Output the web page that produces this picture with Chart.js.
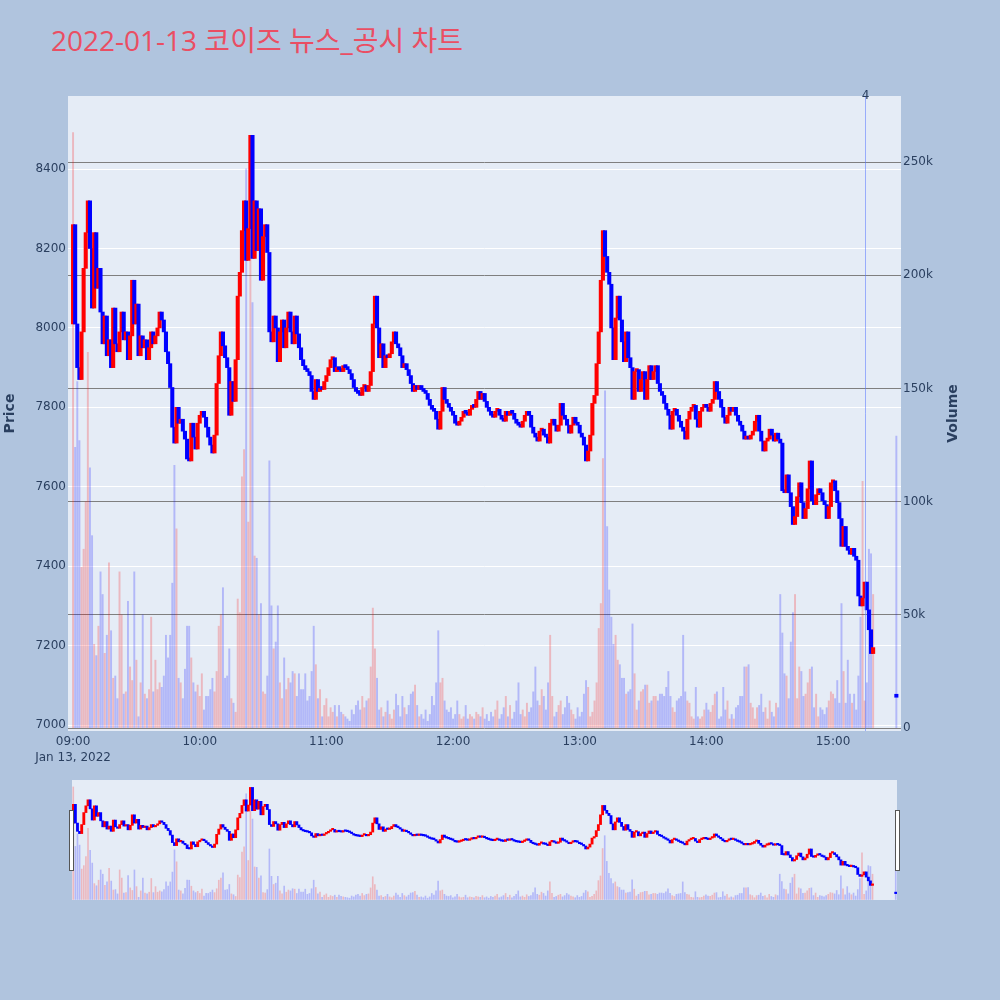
<!DOCTYPE html>
<html>
<head>
<meta charset="utf-8">
<script src="https://cdn.jsdelivr.net/npm/chart.js@4.4.1/dist/chart.umd.min.js"></script>
<style>
    html, body { margin: 0; padding: 0; background: #b0c4de; }
    #wrap { position: relative; width: 1000px; height: 1000px; overflow: hidden; }
    #title {
        position: absolute; left: 51px; top: 24px; line-height: 32px;
        font-size: 28px; font-family: "Open Sans", "Noto Sans CJK KR", sans-serif;
        color: rgb(234, 78, 99); white-space: nowrap;
    }
    #main { position: absolute; left: 0; top: 0; }
    #slider { position: absolute; left: 72px; top: 780px; background: #e5ecf6; }
    .handle { position: absolute; top: 810px; width: 3px; height: 59px; background: #fff; border: 1px solid #555; }
</style>
</head>
<body>
<div id="wrap">
    <div id="title">2022-01-13 코이즈 뉴스_공시 차트</div>
    <canvas id="main" width="1000" height="770"></canvas>
    <canvas id="slider" width="825" height="120"></canvas>
    <div class="handle" style="left:69px"></div>
    <div class="handle" style="left:895px"></div>
</div>
<script>
// --- Data (1-minute bars from 09:00, index = minutes after open) ---
const firstOpen = 8010;
const closes = [
    8260, 8010, 7900, 7870, 7990, 8150, 8240, 8320, 8200, 8050,
    8240, 8100, 8150, 8040, 7960, 8030, 7930, 7970, 7900, 8050,
    7960, 7940, 7990, 8040, 7970, 7990, 7920, 7980, 8120, 8010,
    8060, 7930, 7980, 7950, 7970, 7920, 7950, 7990, 7960, 7980,
    8000, 8040, 8020, 7990, 7940, 7910, 7850, 7750, 7710, 7800,
    7760, 7770, 7740, 7720, 7670, 7665, 7760, 7725, 7695, 7760,
    7780, 7790, 7775, 7750, 7725, 7705, 7685, 7730, 7860, 7930,
    7990, 7955, 7925, 7900, 7780, 7865, 7815, 7920, 8080, 8140,
    8245, 8320, 8170, 8250, 8485, 8175, 8320, 8195, 8300, 8120,
    8230, 8260, 8190, 7990, 7965, 8030, 8000, 7915, 7990, 8020,
    7950, 8000, 8040, 7990, 7960, 8030, 7985, 7950, 7920, 7905,
    7895, 7890, 7880, 7840, 7820, 7870, 7840, 7845, 7845, 7865,
    7880, 7900, 7920, 7925, 7890, 7900, 7895, 7890, 7905, 7900,
    7895, 7885, 7870, 7850, 7840, 7835, 7830, 7850, 7855, 7840,
    7855, 7890, 8010, 8080, 8000, 7925, 7960, 7900, 7930, 7925,
    7935, 7965, 7990, 7960, 7950, 7930, 7900, 7910, 7895, 7880,
    7860, 7840, 7855, 7845, 7855, 7845, 7840, 7835, 7820, 7805,
    7795, 7790, 7770, 7745, 7790, 7850, 7820, 7810, 7800, 7790,
    7780, 7760, 7755, 7765, 7775, 7790, 7785, 7780, 7795, 7805,
    7800, 7820, 7840, 7820, 7835, 7815, 7800, 7790, 7780, 7775,
    7790, 7795, 7780, 7770, 7765, 7790, 7780, 7790, 7785, 7770,
    7760, 7755, 7750, 7765, 7780, 7790, 7780, 7750, 7735, 7725,
    7715, 7740, 7745, 7730, 7725, 7710, 7760, 7770, 7755, 7740,
    7755, 7810, 7780, 7770, 7755, 7735, 7755, 7775, 7760, 7755,
    7735, 7725, 7705, 7665, 7690, 7730, 7810, 7830, 7910, 7990,
    8120, 8245, 8180, 8140, 8110, 8000, 7920, 8025, 8080, 8020,
    7965, 7915, 7990, 7925, 7900, 7820, 7890, 7895, 7840, 7870,
    7890, 7820, 7870, 7905, 7870, 7890, 7905, 7860, 7840, 7830,
    7810, 7795, 7780, 7745, 7790, 7795, 7780, 7765, 7750, 7740,
    7720, 7770, 7790, 7800, 7805, 7770, 7750, 7790, 7800, 7805,
    7800, 7790, 7810, 7820, 7865, 7840, 7820, 7800, 7775, 7760,
    7780, 7800, 7790, 7800, 7780, 7765, 7755, 7740, 7720, 7725,
    7720, 7730, 7740, 7765, 7780, 7740, 7715, 7690, 7715, 7720,
    7745, 7730, 7715, 7735, 7720, 7710, 7590, 7585, 7630, 7585,
    7550, 7505, 7525, 7575, 7610, 7560, 7520, 7545, 7595, 7665,
    7565, 7555, 7580, 7595, 7585, 7565, 7555, 7520, 7550, 7610,
    7615, 7590, 7560, 7520, 7450, 7500, 7450, 7440, 7430, 7445,
    7425, 7415, 7325, 7300, 7320, 7360, 7290, 7240, 7180, 7195
];
// volume in thousands of shares
const volumesK = [
    263, 124, 153, 127, 71, 79, 100, 166, 115, 85,
    37, 32, 45, 69, 59, 33, 41, 73, 43, 22,
    23, 13, 69, 50, 15, 16, 56, 27, 21, 69,
    30, 5, 20, 50, 15, 13, 17, 49, 16, 30,
    17, 20, 18, 23, 41, 31, 41, 64, 116, 88,
    22, 20, 13, 26, 45, 45, 31, 20, 16, 19,
    14, 24, 8, 14, 14, 17, 22, 16, 25, 45,
    50, 62, 22, 23, 35, 13, 11, 7, 57, 51,
    111, 123, 247, 91, 230, 188, 76, 75, 50, 55,
    16, 15, 23, 118, 54, 35, 38, 54, 20, 13,
    31, 17, 22, 20, 25, 24, 14, 24, 17, 17,
    24, 12, 14, 25, 45, 28, 13, 17, 5, 10,
    13, 5, 9, 7, 10, 5, 10, 7, 6, 5,
    4, 3, 8, 6, 10, 12, 8, 14, 9, 12,
    13, 27, 53, 35, 22, 8, 9, 5, 7, 12,
    6, 4, 8, 15, 10, 5, 14, 9, 6, 10,
    15, 16, 19, 10, 5, 6, 4, 8, 3, 6,
    14, 10, 20, 43, 20, 22, 12, 8, 7, 9,
    4, 6, 12, 6, 4, 5, 10, 4, 6, 5,
    4, 7, 6, 5, 9, 4, 6, 3, 7, 5,
    8, 12, 4, 6, 9, 14, 5, 10, 4, 7,
    12, 20, 6, 8, 5, 11, 7, 9, 16, 27,
    12, 10, 17, 14, 8, 20, 41, 14, 5, 7,
    10, 12, 6, 9, 14, 11, 8, 6, 4, 9,
    5, 7, 15, 21, 18, 5, 7, 12, 20, 44,
    55, 119, 149, 89, 61, 49, 37, 41, 30, 28,
    22, 22, 15, 16, 17, 46, 24, 8, 12, 16,
    17, 19, 19, 11, 12, 14, 14, 12, 15, 15,
    14, 18, 25, 14, 9, 7, 12, 13, 14, 41,
    16, 12, 11, 5, 4, 18, 5, 4, 5, 8,
    11, 8, 7, 10, 15, 16, 4, 5, 18, 8,
    12, 4, 6, 4, 9, 10, 14, 14, 27, 27,
    28, 11, 9, 4, 9, 10, 15, 7, 9, 4,
    12, 7, 5, 11, 9, 59, 42, 24, 23, 13,
    38, 51, 59, 13, 27, 25, 14, 15, 20, 26,
    27, 9, 15, 5, 9, 8, 6, 9, 12, 16,
    15, 13, 21, 11, 55, 25, 11, 30, 15, 11,
    15, 8, 23, 49, 109, 12, 20, 79, 77, 59
];
// closing auction (15:30)
const auctionMinute = 390;
const auctionOpen = 7076;
const auctionClose = 7070;
const auctionVolK = 129;

// news / disclosure markers
const newsMinutes = [375];
const newsLabels = ['4'];

// axes
const priceTicks = [7000, 7200, 7400, 7600, 7800, 8000, 8200, 8400];
const volTicks = [0, 50, 100, 150, 200, 250];
const volTickLabels = ['0', '50k', '100k', '150k', '200k', '250k'];
const hourTicks = [0, 60, 120, 180, 240, 300, 360];
const hourLabels = ['09:00', '10:00', '11:00', '12:00', '13:00', '14:00', '15:00'];
const dateLabel = 'Jan 13, 2022';

// --- Build datasets ---
const UP = '#ff0000', DOWN = '#0000ff';
const UP_VOL = 'rgba(255, 0, 0, 0.22)', DOWN_VOL = 'rgba(0, 0, 255, 0.22)';

const opens = closes.map((c, i) => i === 0 ? firstOpen : closes[i - 1]);
const candleData = closes.map((c, i) => ({ x: i, y: [opens[i], c] }));
candleData.push({ x: auctionMinute, y: [auctionOpen, auctionClose] });
const isUp = candleData.map(d => d.y[1] > d.y[0]);
const candleColors = isUp.map(u => u ? UP : DOWN);

const volData = volumesK.map((v, i) => ({ x: i, y: v }));
volData.push({ x: auctionMinute, y: auctionVolK });
const volColors = isUp.map(u => u ? UP_VOL : DOWN_VOL);

const tickFont = { family: 'DejaVu Sans', size: 12 };
const tickColor = '#2a3f5f';
const PRICE_MIN = 6985, PRICE_MAX = 8584;
const VOL_MIN = -1.3, VOL_MAX = 279.2;

// --- Decorations: plot background, news line, axis titles ---
const plotDeco = {
    id: 'plotDeco',
    beforeDraw(chart) {
        const { ctx, chartArea: a } = chart;
        ctx.save();
        ctx.fillStyle = '#e5ecf6';
        ctx.fillRect(a.left, a.top, a.right - a.left, a.bottom - a.top);
        ctx.restore();
    },
    afterDatasetsDraw(chart) {
        const { ctx, chartArea: a, scales } = chart;
        ctx.save();
        newsMinutes.forEach((m, i) => {
            const x = Math.round(scales.x.getPixelForValue(m)) + 0.5;
            ctx.strokeStyle = 'rgba(90, 120, 255, 0.55)';
            ctx.lineWidth = 1;
            ctx.beginPath();
            ctx.moveTo(x, a.top);
            ctx.lineTo(x, a.bottom);
            ctx.stroke();
            ctx.fillStyle = tickColor;
            ctx.font = '12px "DejaVu Sans"';
            ctx.textAlign = 'center';
            ctx.textBaseline = 'middle';
            ctx.fillText(newsLabels[i], x, a.top);
        });
        ctx.restore();
    },
    afterDraw(chart) {
        const { ctx, chartArea: a, scales } = chart;
        const midY = (a.top + a.bottom) / 2;
        ctx.save();
        ctx.fillStyle = tickColor;
        ctx.font = 'bold 14px "DejaVu Sans"';
        ctx.textAlign = 'center';
        ctx.textBaseline = 'middle';
        ctx.save();
        ctx.translate(10, midY);
        ctx.rotate(-Math.PI / 2);
        ctx.fillText('Price', 0, 0);
        ctx.restore();
        ctx.save();
        ctx.translate(953, midY);
        ctx.rotate(-Math.PI / 2);
        ctx.fillText('Volume', 0, 0);
        ctx.restore();
        ctx.font = '12px "DejaVu Sans"';
        ctx.fillText(dateLabel, scales.x.getPixelForValue(hourTicks[0]), a.bottom + 27);
        ctx.restore();
    }
};

new Chart(document.getElementById('main'), {
    type: 'bar',
    data: {
        datasets: [
            {
                data: candleData,
                backgroundColor: candleColors,
                barThickness: 3.4,
                minBarLength: 3,
                grouped: false,
                yAxisID: 'y',
                order: 1
            },
            {
                data: volData,
                backgroundColor: volColors,
                barThickness: 1.3,
                grouped: false,
                yAxisID: 'y1',
                order: 2
            }
        ]
    },
    options: {
        responsive: false,
        animation: false,
        devicePixelRatio: 1,
        events: [],
        layout: { padding: { top: 96, left: 0, right: 0, bottom: 0 } },
        plugins: { legend: { display: false }, tooltip: { enabled: false } },
        scales: {
            x: {
                type: 'linear',
                position: 'bottom',
                offset: false,
                min: -2.4,
                max: 392.2,
                grid: { display: false, drawTicks: false },
                border: { display: false },
                afterBuildTicks: s => { s.ticks = hourTicks.map(v => ({ value: v })); },
                afterFit: s => { s.height = 39; },
                ticks: {
                    autoSkip: false, maxRotation: 0, padding: 4,
                    font: tickFont, color: tickColor,
                    callback: v => hourLabels[hourTicks.indexOf(v)]
                }
            },
            y: {
                position: 'left',
                min: PRICE_MIN,
                max: PRICE_MAX,
                grid: { color: '#ffffff', lineWidth: 1, drawTicks: false },
                border: { display: false },
                afterBuildTicks: s => { s.ticks = priceTicks.map(v => ({ value: v })); },
                afterFit: s => { s.width = 68; },
                ticks: { padding: 2, font: tickFont, color: tickColor, callback: v => String(v) }
            },
            y1: {
                position: 'right',
                min: VOL_MIN,
                max: VOL_MAX,
                grid: { color: '#7f7f7f', lineWidth: 1, drawTicks: false },
                border: { display: false },
                afterBuildTicks: s => { s.ticks = volTicks.map(v => ({ value: v })); },
                afterFit: s => { s.width = 99; },
                ticks: {
                    padding: 2, font: tickFont, color: tickColor,
                    callback: v => volTickLabels[volTicks.indexOf(v)]
                }
            }
        }
    },
    plugins: [plotDeco]
});

// --- Range slider miniature ---
new Chart(document.getElementById('slider'), {
    type: 'bar',
    data: {
        datasets: [
            { data: candleData, backgroundColor: candleColors, barThickness: 2.2, minBarLength: 1.5, grouped: false, yAxisID: 'y', order: 1 },
            { data: volData, backgroundColor: volColors, barThickness: 1, grouped: false, yAxisID: 'y1', order: 2 }
        ]
    },
    options: {
        responsive: false,
        animation: false,
        devicePixelRatio: 1,
        events: [],
        layout: { padding: 0 },
        plugins: { legend: { display: false }, tooltip: { enabled: false } },
        scales: {
            x: { type: 'linear', display: false, offset: false, min: -0.6, max: 390.6 },
            y: { display: false, min: PRICE_MIN, max: PRICE_MAX },
            y1: { display: false, min: VOL_MIN, max: VOL_MAX }
        }
    }
});
</script>
</body>
</html>
